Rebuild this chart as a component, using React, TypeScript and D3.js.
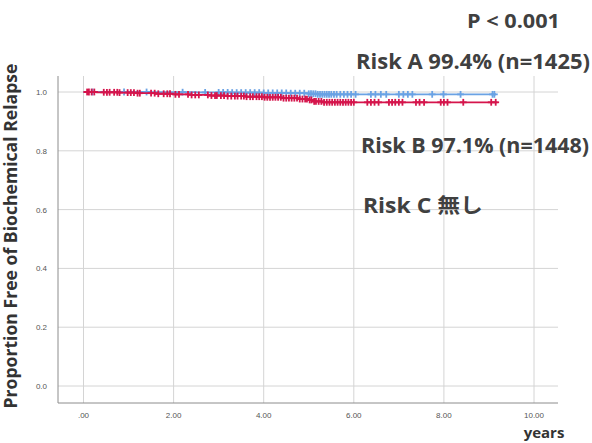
import React from "react";
import * as d3 from "d3";

const W = 592;
const H = 443;

const xTicks = [0, 2, 4, 6, 8, 10];
const xTickLabels = [".00", "2.00", "4.00", "6.00", "8.00", "10.00"];
const yTicks = [0, 0.2, 0.4, 0.6, 0.8, 1.0];
const yTickLabels = ["0.0", "0.2", "0.4", "0.6", "0.8", "1.0"];

// Kaplan-Meier steps (time in years, survival after event)
const blueTimes = [0, 1.5, 2.5, 3.3, 4.0, 4.6, 5.0, 5.2, 9.15];
const blueSurv = [1.0, 0.9993, 0.9986, 0.998, 0.997, 0.996, 0.994, 0.992, 0.992];
const redTimes = [0, 0.3, 0.8, 1.2, 1.6, 2.0, 2.4, 2.8, 3.2, 3.6, 4.0, 4.4, 4.8, 5.0, 5.1, 5.3, 9.19];
const redSurv = [1.0, 0.999, 0.998, 0.996, 0.994, 0.992, 0.99, 0.988, 0.986, 0.984, 0.982, 0.979, 0.976, 0.973, 0.968, 0.965, 0.965];

const blueCensor = [0.2, 0.9, 1.4, 2.2, 2.7, 3.0, 3.1, 3.2, 3.3, 3.4, 3.5, 3.6, 3.7, 3.8, 3.9, 4.0, 4.1, 4.2, 4.3, 4.4, 4.5, 4.6, 4.7, 4.8, 4.9, 5.0, 5.05, 5.1, 5.15, 5.2, 5.25, 5.3, 5.35, 5.4, 5.45, 5.5, 5.56, 5.62, 5.7, 5.78, 5.86, 5.94, 6.04, 6.38, 6.48, 6.6, 6.72, 7.0, 7.1, 7.2, 7.3, 7.74, 7.99, 8.37, 9.08, 9.12];
const redCensor = [0.08, 0.12, 0.18, 0.24, 0.45, 0.52, 0.58, 0.68, 0.75, 0.8, 0.98, 1.05, 1.12, 1.2, 1.25, 1.5, 1.58, 1.66, 1.78, 1.86, 1.92, 2.04, 2.12, 2.32, 2.4, 2.48, 2.56, 2.76, 2.84, 2.92, 2.96, 3.05, 3.12, 3.2, 3.28, 3.36, 3.42, 3.5, 3.56, 3.62, 3.7, 3.76, 3.84, 3.9, 3.96, 4.02, 4.08, 4.14, 4.2, 4.26, 4.32, 4.38, 4.44, 4.5, 4.56, 4.62, 4.68, 4.74, 4.8, 4.86, 4.92, 4.96, 5.02, 5.06, 5.12, 5.16, 5.22, 5.28, 5.34, 5.4, 5.46, 5.52, 5.58, 5.64, 5.7, 5.76, 5.82, 5.88, 5.94, 6.0, 6.3, 6.38, 6.46, 6.55, 6.78, 6.85, 6.92, 7.0, 7.08, 7.38, 7.46, 7.56, 7.93, 8.0, 8.08, 8.43, 9.05, 9.15];

const BLUE = "#6aa2e4";
const RED = "#d5154c";
const TEXT = "#404040";
const FONT = "'Open Sans', 'Noto Sans CJK JP', sans-serif";

const x = d3.scaleLinear().domain([0, 10]).range([83.5, 534]);
const y = d3.scaleLinear().domain([0, 1]).range([386, 92]);

const plotLeft = 58;
const plotRight = 558;
const plotTop = 76;
const plotBottom = 403;

function survAt(times: number[], surv: number[], t: number) {
  let s = surv[0];
  for (let i = 0; i < times.length; i++) {
    if (times[i] <= t) s = surv[i];
  }
  return s;
}

const stepLine = d3
  .line<[number, number]>()
  .x((d) => x(d[0]))
  .y((d) => y(d[1]))
  .curve(d3.curveStepAfter);

function Series({ times, surv, censor, color }: { times: number[]; surv: number[]; censor: number[]; color: string }) {
  const pts = times.map((t, i) => [t, surv[i]] as [number, number]);
  const m = 3.4;
  return (
    <g>
      <path d={stepLine(pts) || ""} fill="none" stroke={color} strokeWidth={1.8} />
      {censor.map((t, i) => {
        const cx = x(t);
        const cy = y(survAt(times, surv, t));
        return (
          <g key={i} stroke={color} strokeWidth={1.8}>
            <line x1={cx - m} x2={cx + m} y1={cy} y2={cy} />
            <line x1={cx} x2={cx} y1={cy - m} y2={cy + m} />
          </g>
        );
      })}
    </g>
  );
}

export default function App() {
  return (
    <svg width={W} height={H} style={{ position: "absolute", left: 0, top: 0, background: "#fff" }}>
      <rect width={W} height={H} fill="#fff" />
      {/* grid */}
      {yTicks.map((v) => (
        <line key={"gy" + v} x1={plotLeft} x2={plotRight} y1={y(v)} y2={y(v)} stroke="#d4d4d4" strokeWidth={1} />
      ))}
      {xTicks.map((v) => (
        <line key={"gx" + v} x1={x(v)} x2={x(v)} y1={plotTop} y2={plotBottom} stroke="#d4d4d4" strokeWidth={1} />
      ))}
      {/* axes */}
      <line x1={plotLeft} x2={plotLeft} y1={plotTop} y2={plotBottom} stroke="#8c8c8c" strokeWidth={1} />
      <line x1={plotLeft} x2={plotRight} y1={plotBottom} y2={plotBottom} stroke="#8c8c8c" strokeWidth={1} />
      {/* tick labels */}
      {yTicks.map((v, i) => (
        <text key={"ty" + v} x={47} y={y(v) + 3} textAnchor="end" fontSize={8} fontFamily="Arial, 'Liberation Sans', sans-serif" fill="#555">
          {yTickLabels[i]}
        </text>
      ))}
      {xTicks.map((v, i) => (
        <text key={"tx" + v} x={x(v)} y={418} textAnchor="middle" fontSize={8} fontFamily="Arial, 'Liberation Sans', sans-serif" fill="#555">
          {xTickLabels[i]}
        </text>
      ))}
      {/* curves */}
      <Series times={blueTimes} surv={blueSurv} censor={blueCensor} color={BLUE} />
      <Series times={redTimes} surv={redSurv} censor={redCensor} color={RED} />
      {/* axis titles */}
      <text
        transform="translate(17,236) rotate(-90)"
        textAnchor="middle"
        fontSize={17}
        fontWeight="bold"
        fontFamily={FONT}
        fill="#333"
        textLength={345}
        lengthAdjust="spacingAndGlyphs"
      >
        Proportion Free of Biochemical Relapse
      </text>
      <text x={544} y={438} textAnchor="middle" fontSize={15} fontWeight="bold" fontFamily={FONT} fill="#333">
        years
      </text>
      {/* annotations */}
      <text x={467} y={28} fontSize={20} fontWeight="bold" fontFamily={FONT} fill={TEXT} textLength={93} lengthAdjust="spacingAndGlyphs">
        P &lt; 0.001
      </text>
      <text x={356} y={69} fontSize={20.5} fontWeight="bold" fontFamily={FONT} fill={TEXT} textLength={234} lengthAdjust="spacingAndGlyphs">
        Risk A 99.4% (n=1425)
      </text>
      <text x={361} y={153} fontSize={20.5} fontWeight="bold" fontFamily={FONT} fill={TEXT} textLength={228} lengthAdjust="spacingAndGlyphs">
        Risk B 97.1% (n=1448)
      </text>
      <text x={363} y={213} fontSize={20.5} fontWeight="bold" fontFamily={FONT} fill={TEXT} textLength={120} lengthAdjust="spacingAndGlyphs">
        Risk C  無し
      </text>
    </svg>
  );
}
